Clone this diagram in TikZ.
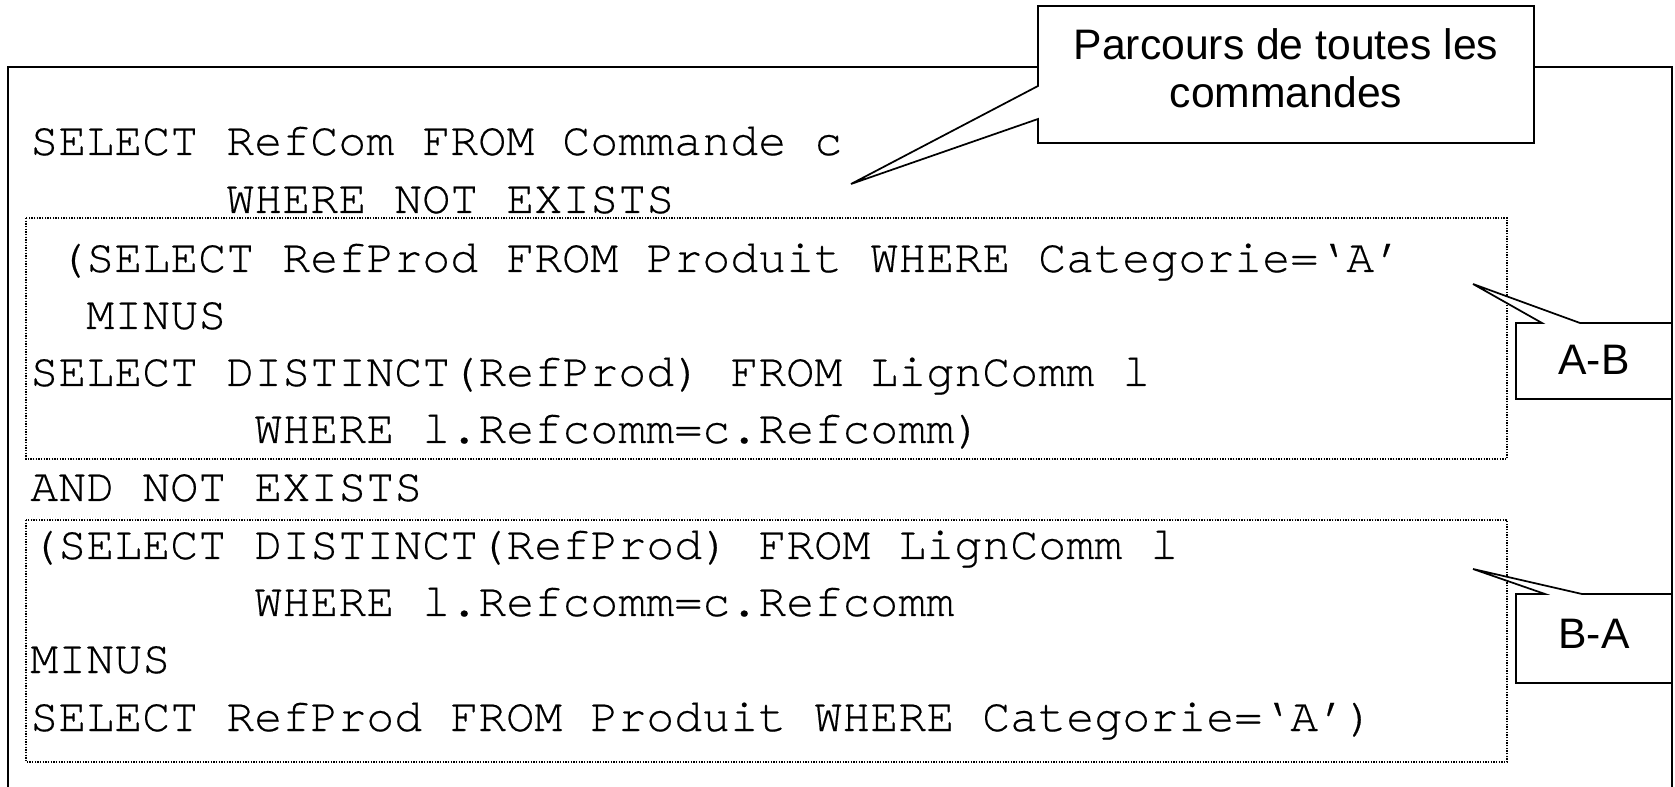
\documentclass[tikz,border=0pt]{standalone}
\usepackage{fontspec}
\setmainfont{Liberation Sans}
\newfontfamily\codefont[FakeBold=0.4]{TeX Gyre Cursor}
\begin{document}
\begin{tikzpicture}[x=0.75pt,y=-0.75pt,
  code/.style={anchor=base west,inner sep=0pt,font=\codefont\fontsize{35}{35}\selectfont},
  calltext/.style={anchor=base,inner sep=0pt,font=\fontsize{32}{32}\selectfont},
  outerbox/.style={line width=1.6pt},
  dotbox/.style={line width=1.1pt,dash pattern=on 1.1pt off 0.9pt},
  calloutshape/.style={fill=white,draw=black,line width=1.3pt,line join=miter}]
\useasboundingbox (0,0) rectangle (1675,787);
\clip (0,0) rectangle (1675,787);
\fill[white] (0,0) rectangle (1675,787);
% outer frame (open at the bottom)
\draw[outerbox] (8,800) -- (8,67) -- (1672,67) -- (1672,800);
% dotted groups
\draw[dotbox] (26,218) rectangle (1507,459);
\draw[dotbox] (26,520) rectangle (1507,762);
% code lines
\def\cw{28.0}
\def\xo{30}
\node[code] (l1)  at ({\xo+0*\cw},155) {SELECT RefCom FROM Commande c};
\node[code] (l2)  at ({\xo+7*\cw},213) {WHERE NOT EXISTS};
\node[code] (l3)  at ({\xo+1*\cw},272) {(SELECT RefProd FROM Produit WHERE Categorie=‘A’};
\node[code] (l4)  at ({\xo+2*\cw},329) {MINUS};
\node[code] (l5)  at ({\xo+0*\cw},386) {SELECT DISTINCT(RefProd) FROM LignComm l};
\node[code] (l6)  at ({\xo+8*\cw},443) {WHERE l.Refcomm=c.Refcomm)};
\node[code] (l7)  at ({\xo+0*\cw},501) {AND NOT EXISTS};
\node[code] (l8)  at ({\xo+0*\cw},559) {(SELECT DISTINCT(RefProd) FROM LignComm l};
\node[code] (l9)  at ({\xo+8*\cw},616) {WHERE l.Refcomm=c.Refcomm};
\node[code] (l10) at ({\xo+0*\cw},673) {MINUS};
\node[code] (l11) at ({\xo+0*\cw},731) {SELECT RefProd FROM Produit WHERE Categorie=‘A’)};
% callout 1
\coordinate (tip1) at (851,184);
\draw[calloutshape] (1038,6) -- (1534,6) -- (1534,143) -- (1038,143) -- (1038,119) -- (tip1) -- (1038,86) -- cycle;
\node[calltext] (pc1) at (1286,60) {Parcours de toutes les};
\node[calltext] (pc2) at (1286,108) {commandes};
% callout A-B
\coordinate (tipAB) at (1473,284);
\draw[calloutshape] (1516,323) -- (1542,323) -- (tipAB) -- (1580,323) -- (1672,323) -- (1672,399) -- (1516,399) -- cycle;
\node[calltext] (ab) at (1594,375) {A-B};
% callout B-A
\coordinate (tipBA) at (1473,569);
\draw[calloutshape] (1516,594) -- (1545,594) -- (tipBA) -- (1582,594) -- (1672,594) -- (1672,683) -- (1516,683) -- cycle;
\node[calltext] (ba) at (1594,648) {B-A};
% right edge of the frame on top
\draw[outerbox] (1672,67) -- (1672,800);
\end{tikzpicture}
\end{document}
